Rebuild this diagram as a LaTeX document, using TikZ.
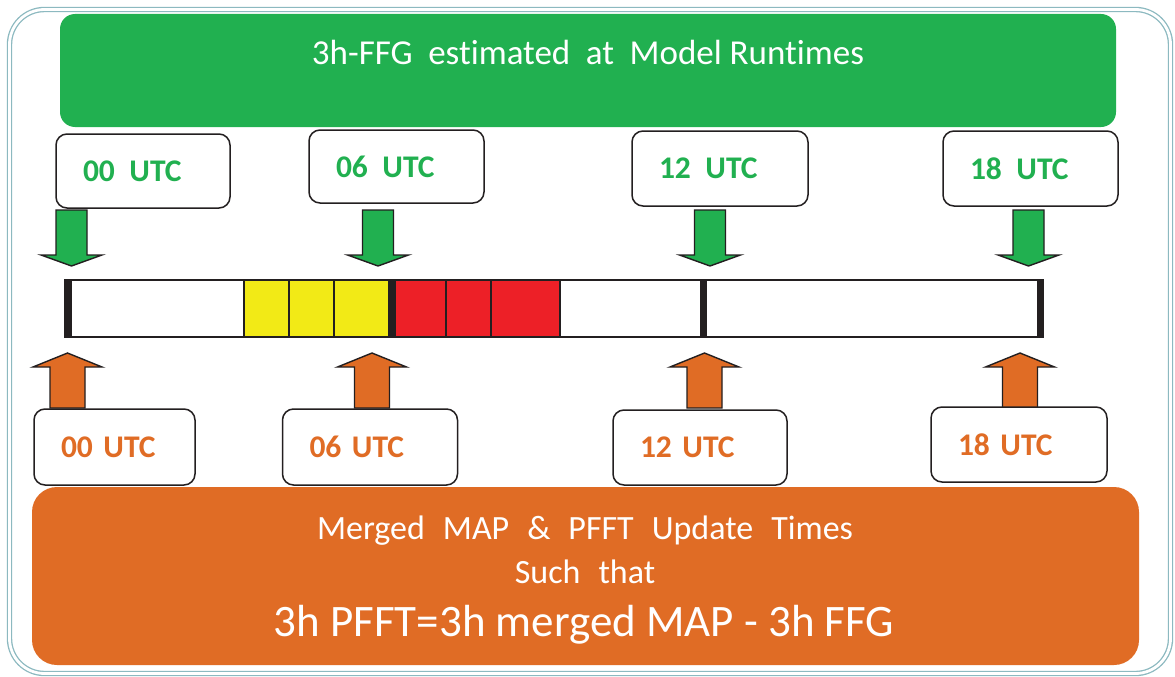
\documentclass[tikz,border=0pt]{standalone}
\usepackage{fontspec}
\setmainfont[Ligatures={NoCommon}]{Carlito}
\usetikzlibrary{calc}
\definecolor{ffggreen}{RGB}{33,176,80}
\definecolor{mapor}{RGB}{224,108,37}
\definecolor{cellyel}{RGB}{242,234,22}
\definecolor{cellred}{RGB}{237,32,39}
\definecolor{framec}{RGB}{140,185,192}
\definecolor{inkc}{RGB}{35,31,32}
\newcommand{\gapw}{\hspace{18pt}}
\newcommand{\gapt}{\hspace{15.6pt}}
\newcommand{\gapu}{\hspace{14.5pt}}
\begin{document}
\begin{tikzpicture}[x=1pt,y=-1pt,
  banner/.style={rounded corners=#1, inner sep=0pt},
  utcbox/.style={draw=inkc, line width=1.5pt, fill=white, rounded corners=11pt,
    inner xsep=27pt, inner ysep=0pt, align=left, text width=#1, minimum height=74pt},
  gtext/.style={text=ffggreen, font=\bfseries\fontsize{31.5}{36}\selectfont},
  otext/.style={text=mapor, font=\bfseries\fontsize{31.5}{36}\selectfont},
  wtext/.style={text=white, inner sep=0pt},
  cell/.style={draw=inkc, line width=1.2pt},
  dnarrow/.pic={\filldraw[fill=ffggreen, draw=inkc, line width=1.4pt, line join=miter]
     (-15.5,0) -- (-15.5,45) -- (-30.5,45) -- (0,56) -- (30.5,45) -- (15.5,45) -- (15.5,0) -- cycle;},
  uparrow/.pic={\filldraw[fill=mapor, draw=inkc, line width=1.4pt, line join=miter]
     (0,0) -- (34.5,14) -- (17.5,14) -- (17.5,55) -- (-17.5,55) -- (-17.5,14) -- (-34.5,14) -- cycle;}
]
\path[fill=white] (0,0) rectangle (1175,677);
\useasboundingbox (0,0) rectangle (1175,677);

% outer frame
\draw[framec, line width=1.3pt, double=white, double distance=2.8pt, rounded corners=35pt]
  (9.5,9.5) rectangle (1170.5,673.5);

% top green banner
\node[banner=15pt, fill=ffggreen, minimum width=1056pt, minimum height=113pt] (ffg) at (588,70.5) {};
\node[wtext, anchor=base, font=\fontsize{35}{42}\selectfont] (ffgtext) at (588,64)
  {3h-FFG\gapt estimated\gapt at\gapt Model\hspace{7.8pt}Runtimes};

% top boxes
\node[utcbox=120pt, minimum height=74pt, gtext] (t00) at (143,171) {00\gapu UTC};
\node[utcbox=121pt, minimum height=73pt, gtext] (t06) at (396.5,166.5) {06\gapu UTC};
\node[utcbox=122pt, minimum height=75pt, gtext] (t12) at (720,168.5) {12\gapu UTC};
\node[utcbox=121pt, minimum height=75pt, gtext] (t18) at (1030.5,168.5) {18\gapu UTC};

% green arrows
\pic (g00) at (71.5,210) {dnarrow};
\pic (g06) at (378,210) {dnarrow};
\pic (g12) at (710,210) {dnarrow};
\pic (g18) at (1028.5,210) {dnarrow};

% timeline bar
\node[draw=inkc, line width=1.6pt, fill=white, minimum width=978pt, minimum height=57pt, inner sep=0pt] (bar) at (554,308.5) {};
\foreach \a/\b in {244/289,289/334,334/389}
  \draw[cell, fill=cellyel] (\a,280) rectangle (\b,337);
\foreach \a/\b in {395/446,446/491,491/560}
  \draw[cell, fill=cellred] (\a,280) rectangle (\b,337);
\foreach \a/\b in {65/72,389/395,700/707,1037/1043}
  \fill[inkc] (\a,279.2) rectangle (\b,337.8);

% orange arrows
\pic (o00) at (67.5,353) {uparrow};
\pic (o06) at (372,353) {uparrow};
\pic (o12) at (704.5,353) {uparrow};
\pic (o18) at (1020,353) {uparrow};

% bottom boxes
\node[utcbox=107pt, minimum height=76pt, otext] (b00) at (114.5,447) {00 UTC};
\node[utcbox=121pt, minimum height=76pt, otext] (b06) at (370,447) {06 UTC};
\node[utcbox=120pt, minimum height=75pt, otext] (b12) at (700,447.5) {12 UTC};
\node[utcbox=122pt, minimum height=75pt, otext] (b18) at (1019,444.5) {18 UTC};

% bottom orange banner
\node[banner=25pt, fill=mapor, minimum width=1107pt, minimum height=178pt] (map) at (585.5,576) {};
\node[wtext, anchor=base, font=\fontsize{34}{40}\selectfont] (l1) at (585,539)
  {Merged\gapw MAP\gapw \&\gapw PFFT\gapw Update\gapw Times};
\node[wtext, anchor=base, font=\fontsize{34}{40}\selectfont] (l2) at (585,583)
  {Such\gapw that};
\node[wtext, anchor=base, font=\fontsize{45}{52}\selectfont] (l3) at (584,636)
  {3h PFFT=3h merged MAP - 3h FFG};
\end{tikzpicture}
\end{document}
